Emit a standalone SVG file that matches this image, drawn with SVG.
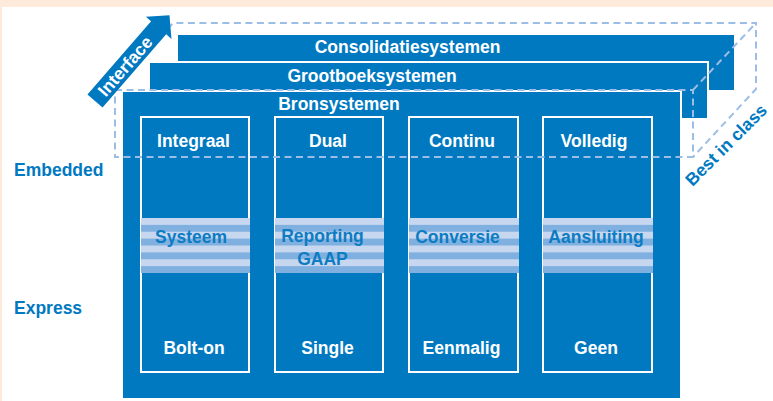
<svg xmlns="http://www.w3.org/2000/svg" width="773" height="401" viewBox="0 0 773 401">
  <defs>
    <pattern id="stripes" patternUnits="userSpaceOnUse" x="0" y="218" width="10" height="13.75">
      <rect x="0" y="0" width="10" height="6.875" fill="#C6D7EF"/>
      <rect x="0" y="6.875" width="10" height="6.875" fill="#80B0E0"/>
    </pattern>
  </defs>
  <style>
    .bar { fill: #0079C1; }
    .gap { fill: #FFFFFF; }
    .col { fill: #0079C1; stroke: #FFFFFF; stroke-width: 2; }
    .band { fill: url(#stripes); }
    .t { font-family: "Liberation Sans", Arial, sans-serif; font-weight: bold; font-size: 17.5px; }
    .w { fill: #FFFFFF; text-anchor: middle; }
    .b { fill: #0079C1; }
    .bm { fill: #0C7CC3; text-anchor: middle; }
    .dash { fill: none; stroke: #9CBDE6; stroke-width: 2; stroke-dasharray: 7 4.5; }
  </style>

  <!-- background -->
  <rect x="0" y="0" width="773" height="401" fill="#FFFFFF"/>
  <rect x="0" y="0" width="773" height="7" fill="#FDEADB"/>
  <rect x="0" y="0" width="2" height="401" fill="#FDEADB"/>

  <!-- layers -->
  <g id="consolidatie">
    <rect class="bar" x="178" y="35" width="556" height="55"/>
    <text class="t w" x="407.5" y="53">Consolidatiesystemen</text>
  </g>
  <g id="grootboek">
    <rect class="gap" x="148" y="61" width="561" height="58"/>
    <rect class="bar" x="150" y="63" width="557" height="55"/>
    <text class="t w" x="372" y="82">Grootboeksystemen</text>
  </g>
  <g id="bron">
    <rect class="gap" x="121" y="90" width="561" height="310"/>
    <rect class="bar" x="123" y="92" width="557" height="306"/>
    <text class="t w" x="339" y="110">Bronsystemen</text>
  </g>

  <!-- columns -->
  <g id="col-integraal">
    <rect class="col" x="141" y="117" width="108" height="255"/>
    <rect class="band" x="141" y="218" width="109" height="55"/>
    <text class="t w" x="193.5" y="146.5">Integraal</text>
    <text class="t bm" x="191" y="242.5">Systeem</text>
    <text class="t w" x="194" y="353.5">Bolt-on</text>
  </g>
  <g id="col-dual">
    <rect class="col" x="275" y="117" width="108" height="255"/>
    <rect class="band" x="275" y="218" width="109" height="55"/>
    <text class="t w" x="328" y="146.5">Dual</text>
    <text class="t bm" x="322.5" y="241.5">Reporting</text>
    <text class="t bm" x="322.5" y="265">GAAP</text>
    <text class="t w" x="327.5" y="353.5">Single</text>
  </g>
  <g id="col-continu">
    <rect class="col" x="409" y="117" width="109" height="255"/>
    <rect class="band" x="409" y="218" width="110" height="55"/>
    <text class="t w" x="462" y="146.5">Continu</text>
    <text class="t bm" x="457.5" y="242.5">Conversie</text>
    <text class="t w" x="461.5" y="353.5">Eenmalig</text>
  </g>
  <g id="col-volledig">
    <rect class="col" x="543" y="117" width="109" height="255"/>
    <rect class="band" x="543" y="218" width="110" height="55"/>
    <text class="t w" x="594" y="146.5">Volledig</text>
    <text class="t bm" x="596" y="242.5">Aansluiting</text>
    <text class="t w" x="596" y="353.5">Geen</text>
  </g>

  <!-- side labels -->
  <g id="embedded">
    <text class="t b" x="14" y="176">Embedded</text>
  </g>
  <g id="express">
    <text class="t b" x="14" y="314">Express</text>
  </g>

  <!-- dashed cube (connectors) -->
  <g id="connectors">
    <path class="dash" d="M115,90 L693,90 L693,157 L115,157 Z"/>
    <path class="dash" d="M115,90 L173,23 L756,23 L756,89 L693,157"/>
    <path class="dash" d="M693,90 L756,23"/>
  </g>

  <!-- Interface arrow -->
  <g id="interface" transform="translate(95,101) rotate(-49)">
    <path fill="#0079C1" d="M0,-10 L97,-10 L97,-17 L113.5,0 L97,17 L97,10 L0,10 Z"/>
    <text class="t w" x="46" y="6">Interface</text>
  </g>

  <!-- Best in class -->
  <g id="best-in-class">
    <text class="t b" transform="translate(692.5,187) rotate(-45)" x="0" y="0">Best in class</text>
  </g>
</svg>
